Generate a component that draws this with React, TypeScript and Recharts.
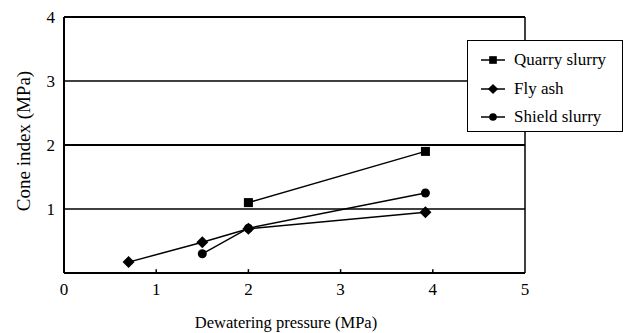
import { LineChart, Line, XAxis, YAxis, ReferenceLine } from 'recharts'

const X_TICKS = [0, 1, 2, 3, 4, 5]
const X_MINOR = [1, 2, 3, 4]
const Y_TICKS = [1, 2, 3, 4]
const GRID_Y = [1, 2, 3, 4]

const quarryX = [2, 3.92]
const quarryY = [1.1, 1.9]
const flyAshX = [0.7, 1.5, 2, 3.92]
const flyAshY = [0.17, 0.48, 0.69, 0.95]
const shieldX = [1.5, 2, 3.92]
const shieldY = [0.3, 0.7, 1.25]

const zip = (xs: number[], ys: number[]) => xs.map((x, i) => ({ x, y: ys[i] }))

const SERIES = [
  { name: 'Quarry slurry', shape: 'square', data: zip(quarryX, quarryY) },
  { name: 'Fly ash', shape: 'diamond', data: zip(flyAshX, flyAshY) },
  { name: 'Shield slurry', shape: 'circle', data: zip(shieldX, shieldY) },
]

const FONT = 'Liberation Serif'

function Marker({ shape, cx, cy, s = 1 }: { shape: string; cx: number; cy: number; s?: number }) {
  if (shape === 'square') {
    const h = 4.5 * s
    return <rect x={cx - h} y={cy - h} width={h * 2} height={h * 2} fill="#000" />
  }
  if (shape === 'diamond') {
    const h = 6 * s
    return <polygon points={`${cx},${cy - h} ${cx + h},${cy} ${cx},${cy + h} ${cx - h},${cy}`} fill="#000" />
  }
  return <circle cx={cx} cy={cy} r={4.5 * s} fill="#000" />
}

const tickStyle = { fontSize: 17, fontFamily: FONT, fill: '#000' }

function LegendBox() {
  return (
    <div
      style={{
        position: 'absolute',
        left: 467,
        top: 40,
        width: 156,
        height: 92,
        border: '1.5px solid #000',
        background: '#fff',
        fontFamily: FONT,
        fontSize: 17,
        boxSizing: 'border-box',
        paddingTop: 5,
      }}
    >
      {SERIES.map((s) => (
        <div key={s.name} style={{ display: 'flex', alignItems: 'center', height: 28.5 }}>
          <svg width={46} height={20} style={{ flexShrink: 0 }}>
            <line x1={13} x2={37} y1={10} y2={10} stroke="#000" strokeWidth={1.5} />
            <Marker shape={s.shape} cx={25} cy={10} s={0.85} />
          </svg>
          <span>{s.name}</span>
        </div>
      ))}
    </div>
  )
}

export default function App() {
  return (
    <div
      style={{
        position: 'absolute',
        left: 0,
        top: 0,
        width: 626,
        height: 333,
        background: '#fff',
        fontFamily: FONT,
      }}
    >
      <LineChart
        width={626}
        height={333}
        margin={{ top: 17, right: 101, left: 0, bottom: 0 }}
        style={{ fontFamily: FONT }}
      >
        <XAxis
          dataKey="x"
          type="number"
          domain={[0, 5]}
          ticks={X_TICKS}
          height={60}
          tickLine={false}
          tickSize={0}
          tickMargin={10}
          axisLine={{ stroke: '#000', strokeWidth: 2 }}
          tick={tickStyle}
          allowDataOverflow
        />
        <YAxis
          dataKey="y"
          type="number"
          domain={[0, 4]}
          ticks={Y_TICKS}
          width={64}
          tickLine={false}
          tickSize={0}
          tickMargin={9}
          axisLine={{ stroke: '#000', strokeWidth: 2 }}
          tick={tickStyle}
          allowDataOverflow
        />
        {GRID_Y.map((v) => (
          <ReferenceLine key={v} y={v} stroke="#000" strokeWidth={v === 2 || v === 4 ? 1.8 : 1.3} />
        ))}
        <ReferenceLine x={5} stroke="#000" strokeWidth={1.5} />
        {X_MINOR.map((v) => (
          <ReferenceLine
            key={`m${v}`}
            segment={[
              { x: v, y: 0 },
              { x: v, y: 0.06 },
            ]}
            stroke="#000"
            strokeWidth={1.5}
          />
        ))}
        {SERIES.map((s) => (
          <Line
            key={s.name}
            data={s.data}
            dataKey="y"
            name={s.name}
            stroke="#000"
            strokeWidth={1.5}
            isAnimationActive={false}
            dot={(p: any) => <Marker key={`${s.name}-${p.index}`} shape={s.shape} cx={p.cx} cy={p.cy} />}
            activeDot={false}
          />
        ))}
      </LineChart>
      <LegendBox />
      <svg width={626} height={333} style={{ position: 'absolute', left: 0, top: 0, pointerEvents: 'none' }}>
        <text
          x={0}
          y={0}
          transform="translate(30 141) rotate(-90)"
          textAnchor="middle"
          fontSize={19}
          fontFamily={FONT}
          fill="#000"
        >
          Cone index (MPa)
        </text>
        <text x={286} y={328} textAnchor="middle" fontSize={16.5} fontFamily={FONT} fill="#000">
          Dewatering pressure (MPa)
        </text>
      </svg>
    </div>
  )
}
